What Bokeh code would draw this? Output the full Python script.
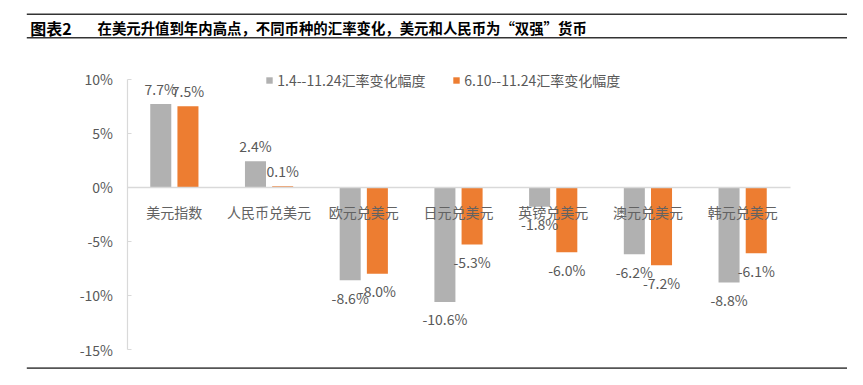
from bokeh.plotting import figure
from bokeh.models import (Range1d, FixedTicker, Legend, LegendItem,
                          Label, BoxAnnotation, ColumnDataSource)
from bokeh.transform import dodge
from bokeh.core.properties import value
from bokeh.embed import file_html
from bokeh.resources import INLINE

# ---- data ----
categories = ["美元指数", "人民币兑美元", "欧元兑美元", "日元兑美元", "英镑兑美元", "澳元兑美元", "韩元兑美元"]
series1_name = "1.4--11.24汇率变化幅度"
series2_name = "6.10--11.24汇率变化幅度"
series1 = [7.7, 2.4, -8.6, -10.6, -1.8, -6.2, -8.8]
series2 = [7.5, 0.1, -8.0, -5.3, -6.0, -7.2, -6.1]
y_ticks = [-15, -10, -5, 0, 5, 10]
y_tick_labels = ["-15%", "-10%", "-5%", "0%", "5%", "10%"]
title_tag = "图表2"
title_text = "在美元升值到年内高点，不同币种的汇率变化，美元和人民币为“双强”货币"

FONT = "Noto Sans CJK SC"
TXT = "#595959"
GRAY = "#B1B1B1"
ORANGE = "#ED7D31"

# ---- layout (page pixels) ----
W_FIG, H_FIG = 847, 369
OX, OY = 2, 2                      # page position of the figure's top-left corner
PL, PR, PT, PB = 128.5, 791.5, 80.7, 351.0   # plot area on the page
n = len(categories)
y_lo, y_hi = y_ticks[0], y_ticks[-1]
kx = (PR - PL) / n
ky = (PB - PT) / (y_hi - y_lo)
x_start = (OX - PL) / kx
x_end = (OX + W_FIG - PL) / kx
y_end = y_hi + (PT - OY) / ky
y_start = y_lo - (OY + H_FIG - PB) / ky

def sx(px):  # page x -> frame screen x
    return px - OX

def sy(py):  # page y -> frame screen y (from bottom)
    return OY + H_FIG - py

xpos = [i + 0.5 for i in range(n)]
src = ColumnDataSource(dict(
    x=xpos,
    v1=series1, v2=series2,
    l1=[f"{v:.1f}%" for v in series1],
    l2=[f"{v:.1f}%" for v in series2],
    o1=[-15 if v >= 0 else 17.5 for v in series1],
    o2=[-15 if v >= 0 else 17.5 for v in series2],
))

p = figure(x_range=Range1d(x_start, x_end), y_range=Range1d(y_start, y_end),
           width=W_FIG, height=H_FIG,
           min_border_left=0, min_border_right=0,
           min_border_top=0, min_border_bottom=0,
           output_backend="svg", toolbar_location=None)
p.title.visible = False
p.outline_line_color = None
p.xgrid.visible = False
p.ygrid.visible = False
p.background_fill_color = "white"
p.border_fill_color = "white"

W = 0.222
OFF = 0.1435
r1 = p.vbar(x=dodge("x", -OFF), top="v1", bottom=0, width=W,
            source=src, fill_color=GRAY, line_color=None)
r2 = p.vbar(x=dodge("x", OFF), top="v2", bottom=0, width=W,
            source=src, fill_color=ORANGE, line_color=None)

for xo, col, lab, off in [(-OFF, "v1", "l1", "o1"), (OFF, "v2", "l2", "o2")]:
    p.text(x=dodge("x", xo), y=col, text=lab, y_offset=off,
           source=src, text_align="center", text_baseline="middle",
           text_font=value(FONT), text_font_size="14px", text_color=TXT)

# y axis
ya = p.yaxis[0]
ya.fixed_location = 0
ya.bounds = (y_lo, y_hi)
ya.ticker = FixedTicker(ticks=y_ticks)
ya.major_label_overrides = {t: l for t, l in zip(y_ticks, y_tick_labels)}
ya.axis_line_color = "#D9D9D9"
ya.axis_line_width = 1.2
ya.major_tick_line_color = "#D9D9D9"
ya.major_tick_in = 4
ya.major_tick_out = 0
ya.minor_tick_line_color = None
ya.major_label_standoff = 14
ya.major_label_text_font = FONT
ya.major_label_text_font_size = "14px"
ya.major_label_text_color = TXT

# x axis at zero
xa = p.xaxis[0]
xa.fixed_location = 0
xa.bounds = (0, n)
xa.ticker = FixedTicker(ticks=xpos)
xa.major_label_overrides = {x: c for x, c in zip(xpos, categories)}
xa.axis_line_color = "#D9D9D9"
xa.axis_line_width = 1.6
xa.major_tick_line_color = None
xa.minor_tick_line_color = None
xa.major_label_standoff = 9
xa.major_label_text_font = FONT
xa.major_label_text_font_size = "14px"
xa.major_label_text_color = "#626262"

# legends
for r, name, gx in [(r1, series1_name, 267.3), (r2, series2_name, 454.3)]:
    leg = Legend(items=[LegendItem(label=name, renderers=[r])],
                 location=(sx(gx), sy(81.3) - 8.5 - 2.5),
                 orientation="horizontal", padding=0, margin=0, spacing=0,
                 glyph_width=8, glyph_height=8, label_standoff=4, label_height=17,
                 border_line_color=None, background_fill_alpha=0,
                 label_text_font=FONT, label_text_font_size="14px",
                 label_text_color=TXT)
    p.add_layout(leg)

# title and rules
p.add_layout(Label(x=sx(31.7), y=sy(29), x_units="screen", y_units="screen", text=title_tag,
                   text_font=FONT, text_font_size="16px", text_font_style="bold",
                   text_color="#000000", text_baseline="middle"))
p.add_layout(Label(x=sx(99), y=sy(29), x_units="screen", y_units="screen", text=title_text,
                   text_font=FONT, text_font_size="14.4px", text_font_style="bold",
                   text_color="#000000", text_baseline="middle"))
for ptop, pbot, col in [(15.0, 16.6, "#333333"), (38.4, 40.0, "#333333"),
                        (min(382.0, OY + H_FIG - 2.2), min(384.2, OY + H_FIG), "#555555")]:
    p.add_layout(BoxAnnotation(left=sx(28.3), right=sx(855), top=sy(ptop), bottom=sy(pbot),
                               left_units="screen", right_units="screen",
                               top_units="screen", bottom_units="screen",
                               fill_color=col, fill_alpha=1, line_color=None))

open("out.html", "w").write(file_html(p, INLINE))
